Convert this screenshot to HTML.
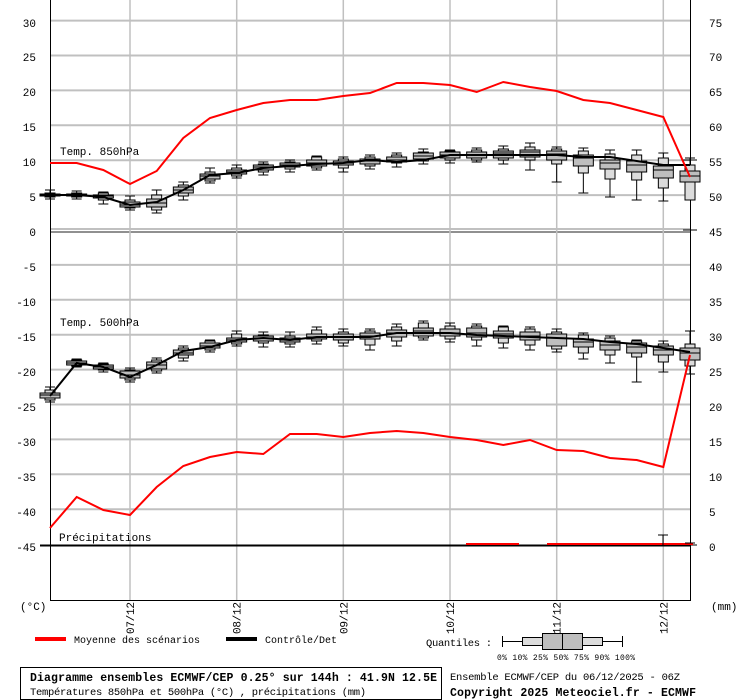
<!DOCTYPE html>
<html><head><meta charset="utf-8"><style>
html,body{margin:0;padding:0;background:#fff;}
svg{display:block;font-family:"Liberation Mono","DejaVu Sans Mono",monospace;}
</style></head><body>
<svg id="s" width="740" height="700" viewBox="0 0 740 700" xmlns="http://www.w3.org/2000/svg"></svg>
<script>
const s=document.getElementById('s');let h='';
const X=i=>50+i*26.667;
for(let v=30;v>=-40;v-=5){const y=230-v*6.98; if(v===0){h+=`<line x1="50" x2="690" y1="229" y2="229" stroke="#c0c0c0" stroke-width="2"/><line x1="50" x2="690" y1="232" y2="232" stroke="#909090" stroke-width="2"/>`;} else h+=`<line x1="50" x2="690" y1="${y}" y2="${y}" stroke="#c0c0c0" stroke-width="2"/>`;}
[130,236.7,343.3,450,556.7,663.3].forEach(x=>h+=`<line x1="${x}" x2="${x}" y1="0" y2="600" stroke="#c0c0c0" stroke-width="1.5"/>`);
h+=`<line x1="50.5" x2="50.5" y1="0" y2="600" stroke="#000"/><line x1="690.5" x2="690.5" y1="0" y2="600" stroke="#000"/><line x1="50" x2="691" y1="600.5" y2="600.5" stroke="#000"/>`;
h+=`<line x1="40" x2="690" y1="545.5" y2="545.5" stroke="#000" stroke-width="2"/>`;
const L=[[30,23],[25,57],[20,92],[15,127],[10,162],[5,197],[0,232],[-5,267],[-10,302],[-15,337],[-20,372],[-25,407],[-30,442],[-35,477],[-40,512],[-45,547]];
L.forEach(([v,y])=>h+=`<text x="36" y="${y+4}" font-size="11" text-anchor="end">${v}</text>`);
const R=[75,70,65,60,55,50,45,40,35,30,25,20,15,10,5,0];
R.forEach((v,k)=>{const y=[23,57,92,127,162,197,232,267,302,337,372,407,442,477,512,547][k];h+=`<text x="709" y="${y+4}" font-size="11">${v}</text>`;});
[162,232,547].forEach(y=>h+=`<line x1="683" x2="697" y1="${y-2}" y2="${y-2}" stroke="#000"/>`);
h+=`<text x="60" y="155" font-size="11">Temp. 850hPa</text><text x="60" y="326" font-size="11">Temp. 500hPa</text><text x="59" y="541" font-size="11">Précipitations</text>`;
function box(i,a){const x=X(i);const [mn,p10,p25,md,p75,p90,mx]=a;
 h+=`<line x1="${x}" x2="${x}" y1="${mn}" y2="${mx}" stroke="#000"/><line x1="${x-5}" x2="${x+5}" y1="${mn}" y2="${mn}" stroke="#000"/><line x1="${x-5}" x2="${x+5}" y1="${mx}" y2="${mx}" stroke="#000"/>`;
 h+=`<rect x="${x-5}" y="${p10}" width="10" height="${p90-p10}" fill="#dcdcdc" stroke="#000"/>`;
 h+=`<rect x="${x-10}" y="${p25}" width="20" height="${p75-p25}" fill="#bebebe" stroke="#000"/>`;
 h+=`<line x1="${x-10}" x2="${x+10}" y1="${md}" y2="${md}" stroke="#000"/>`;}
const B1=[[190,193,194,195,196,197,199],[191,193,194,195,196,197,199],[192,193,195,196,198,200,204],[196,200,202,205,207,208,210],[190,195,199,203,207,210,213],[182,185,187,190,193,196,200],[168,172,174,176,179,181,183],[165,168,170,172,174,176,178],[162,164,165,167,170,172,175],[160,162,163,165,167,169,172],[156,157,160,163,166,168,170],[157,159,161,163,165,168,172],[155,157,159,161,164,166,169],[153,155,157,160,162,163,167],[149,152,153,156,159,161,164],[150,151,152,155,158,160,163],[148,150,152,155,158,160,162],[146,149,151,153,158,160,164],[143,147,150,152,157,160,170],[147,149,151,154,160,164,182],[148,151,155,158,166,173,193],[150,154,160,163,169,179,197],[150,155,161,165,172,180,200],[153,158,166,170,178,188,201],[158,165,171,176,182,200,200]];
const B2=[[387,390,393,395,398,400,402],[359,360,361,363,365,366,367],[363,364,365,367,369,370,372],[368,370,371,375,378,380,382],[358,360,362,365,369,371,373],[346,348,350,353,355,358,361],[340,341,343,346,348,350,352],[331,334,338,340,342,344,346],[332,335,336,338,341,343,347],[332,336,338,340,342,344,347],[327,330,334,337,339,341,344],[329,332,334,337,340,343,346],[329,331,333,336,339,345,350],[324,327,330,333,337,341,346],[321,323,328,331,336,338,340],[323,326,329,333,336,339,342],[324,326,328,333,337,340,346],[326,327,331,334,338,343,348],[327,329,332,336,340,345,350],[329,332,334,338,346,349,352],[333,335,339,342,347,353,359],[336,338,341,345,350,355,363],[340,341,343,347,353,357,382],[341,344,346,350,355,362,372],[331,344,348,353,360,366,374]];
B1.forEach((a,i)=>box(i,a));B2.forEach((a,i)=>box(i,a));
const pl=(ys,c,w)=>h+=`<polyline fill="none" stroke="${c}" stroke-width="${w}" points="${ys.map((y,i)=>X(i).toFixed(1)+','+y).join(' ')}"/>`;
pl([195,195,197,205,202,190,175,173,168,166,164,163,160,162,160,155,155,155,155,155,157,157,161,165,165],'#000',2);
pl([396,363,367,377,365,351,347,340,338,340,337,337,337,333,333,333,335,336,337,338,339,342,344,348,352],'#000',2);
pl([163,163,170,184,171,138,118,110,103,100,100,96,93,83,83,85,92,82,87,91,100,103,110,117,177],'#f00',2);
pl([528,497,510,515,487,466,457,452,454,434,434,437,433,431,433,437,440,445,440,450,451,458,460,467,355],'#f00',2);
h+=`<line x1="466" x2="519" y1="544" y2="544" stroke="#f00" stroke-width="2"/><line x1="547" x2="693" y1="544" y2="544" stroke="#f00" stroke-width="2"/>`;
h+=`<line x1="663" x2="663" y1="535" y2="545" stroke="#000"/><line x1="658" x2="668" y1="535" y2="535" stroke="#000"/><line x1="685" x2="695" y1="543" y2="543" stroke="#000"/>`;
[[130,'07/12'],[236.7,'08/12'],[343.3,'09/12'],[450,'10/12'],[556.7,'11/12'],[663.3,'12/12']].forEach(([x,t])=>h+=`<text transform="translate(${x+4},634) rotate(-90)" font-size="11" textLength="32">${t}</text>`);
h+=`<text x="20" y="610" font-size="11">(°C)</text><text x="711" y="610" font-size="11">(mm)</text>`;
h+=`<rect x="35" y="637" width="31" height="4" fill="#f00"/><text x="74" y="643" font-size="10" textLength="126">Moyenne des scénarios</text>`;
h+=`<rect x="226" y="637" width="31" height="4" fill="#000"/><text x="265" y="643" font-size="10" textLength="72">Contrôle/Det</text>`;
h+=`<text x="426" y="646" font-size="10.5" textLength="66">Quantiles :</text>`;
h+=`<line x1="502" x2="623" y1="641.5" y2="641.5" stroke="#000"/><line x1="502.5" x2="502.5" y1="636" y2="647" stroke="#000"/><line x1="622.5" x2="622.5" y1="636" y2="647" stroke="#000"/><rect x="522.5" y="637.5" width="80" height="8" fill="#dcdcdc" stroke="#000"/><rect x="542.5" y="633.5" width="40" height="16" fill="#bebebe" stroke="#000"/><line x1="562.5" x2="562.5" y1="634" y2="649" stroke="#000"/>`;
h+=`<text x="497" y="660" font-size="8" textLength="138">0%  10% 25% 50% 75% 90% 100%</text>`;
h+=`<rect x="20.5" y="667.5" width="421" height="32" fill="none" stroke="#000"/>`;
h+=`<text x="30" y="681" font-size="11.5" font-weight="bold" textLength="407">Diagramme ensembles ECMWF/CEP 0.25° sur 144h : 41.9N 12.5E</text>`;
h+=`<text x="30" y="695" font-size="10.5" textLength="336">Températures 850hPa et 500hPa (°C) , précipitations (mm)</text>`;
h+=`<text x="450" y="680" font-size="10.5" textLength="230">Ensemble ECMWF/CEP du 06/12/2025 - 06Z</text>`;
h+=`<text x="450" y="696" font-size="11.5" font-weight="bold" textLength="246">Copyright 2025 Meteociel.fr - ECMWF</text>`;
s.innerHTML=h;
</script>
</body></html>
